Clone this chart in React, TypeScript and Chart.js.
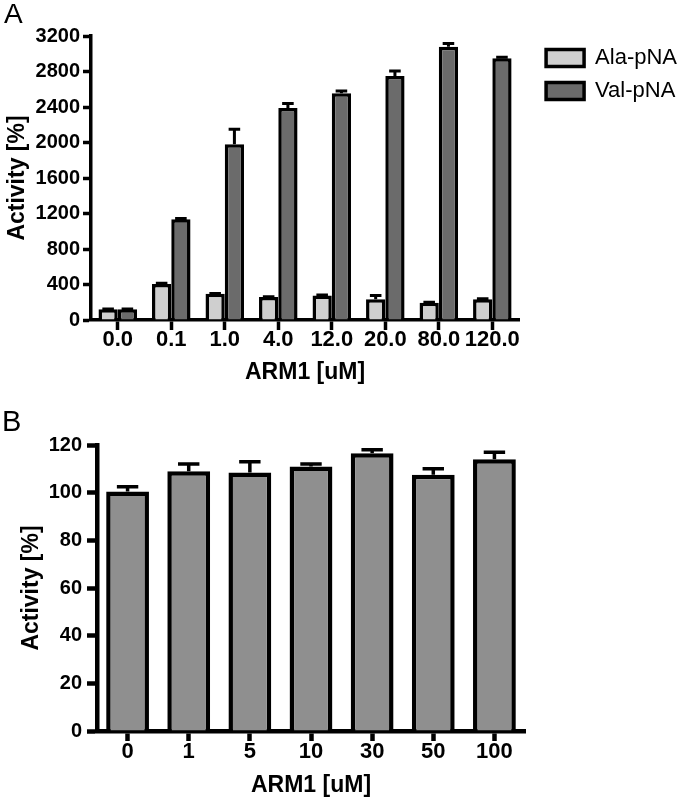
import React, { useEffect, useRef } from "react";
import { Chart, registerables } from "chart.js";

Chart.register(...registerables);

const FONT = "'Liberation Sans', Arial, Helvetica, sans-serif";

// ---------- Panel A data ----------
const concA = ["0.0", "0.1", "1.0", "4.0", "12.0", "20.0", "80.0", "120.0"];
const alaValues = [120, 405, 295, 258, 275, 235, 195, 235];
const alaErrors = [5, 10, 5, 5, 8, 40, 5, 5];
const valValues = [120, 1135, 1980, 2390, 2555, 2750, 3080, 2950];
const valErrors = [5, 10, 170, 50, 25, 55, 35, 10];
const yTicksA = [0, 400, 800, 1200, 1600, 2000, 2400, 2800, 3200];

// ---------- Panel B data ----------
const concB = ["0", "1", "5", "10", "30", "50", "100"];
const actValues = [100.5, 109, 108.5, 111, 116.5, 107.5, 114];
const actErrors = [2, 3, 4.5, 1, 1.5, 2.5, 3];
const yTicksB = [0, 20, 40, 60, 80, 100, 120];

const errorBarPlugin = {
  id: "errorBars",
  afterDatasetsDraw(chart: any, _args: any, opts: any) {
    const ctx = chart.ctx;
    const yScale = chart.scales.y;
    chart.data.datasets.forEach((ds: any, i: number) => {
      const meta = chart.getDatasetMeta(i);
      if (meta.hidden) return;
      const errs = ds.errors || [];
      meta.data.forEach((bar: any, j: number) => {
        const v = ds.data[j];
        const e = errs[j];
        if (!e) return;
        const yTop = yScale.getPixelForValue(v + e);
        const half = bar.width * (opts.capRatio ?? 0.25);
        ctx.save();
        ctx.strokeStyle = "#000";
        ctx.lineWidth = opts.lineWidth ?? 3;
        ctx.beginPath();
        ctx.moveTo(bar.x, bar.y);
        ctx.lineTo(bar.x, yTop);
        ctx.moveTo(bar.x - half, yTop);
        ctx.lineTo(bar.x + half, yTop);
        ctx.stroke();
        ctx.restore();
      });
    });
  },
};

const legendShiftPlugin = {
  id: "legendShift",
  afterLayout(chart: any, _a: any, opts: any) {
    const lg = chart.legend;
    if (lg && opts && opts.dx) {
      lg.left += opts.dx;
      lg.right += opts.dx;
    }
  },
};

function yAxis(ticks: number[], width: number, tickLen: number, lw: number, tickPad: number, titlePad: number) {
  return {
    min: ticks[0],
    max: ticks[ticks.length - 1],
    afterFit: (s: any) => {
      s.width = width;
    },
    afterBuildTicks: (s: any) => {
      s.ticks = ticks.map((v) => ({ value: v }));
    },
    border: { display: true, color: "#000", width: lw },
    grid: {
      display: true,
      drawOnChartArea: false,
      drawTicks: true,
      tickLength: tickLen,
      tickWidth: lw,
      tickColor: "#000",
      color: "#000",
    },
    ticks: {
      color: "#000",
      padding: tickPad,
      font: { family: FONT, size: 20, weight: "bold" },
      callback: (v: any) => String(v),
    },
    title: {
      display: true,
      text: "Activity [%]",
      color: "#000",
      font: { family: FONT, size: 23, weight: "bold" },
      padding: { top: titlePad, bottom: 0 },
    },
  };
}

function xAxis(height: number, tickLen: number, lw: number, tickPad: number, titlePadBottom: number) {
  return {
    afterFit: (s: any) => {
      s.height = height;
    },
    border: { display: true, color: "#000", width: lw },
    grid: {
      display: true,
      offset: false,
      drawOnChartArea: false,
      drawTicks: true,
      tickLength: tickLen,
      tickWidth: lw,
      tickColor: "#000",
      color: "#000",
    },
    ticks: {
      color: "#000",
      padding: tickPad,
      autoSkip: false,
      maxRotation: 0,
      font: { family: FONT, size: 22, weight: "bold", lineHeight: 1 },
    },
    title: {
      display: true,
      text: "ARM1 [uM]",
      color: "#000",
      font: { family: FONT, size: 23, weight: "bold", lineHeight: 1 },
      padding: { top: 0, bottom: titlePadBottom },
    },
  };
}

function PanelA() {
  const ref = useRef<HTMLCanvasElement>(null);
  useEffect(() => {
    const chart = new Chart(ref.current as HTMLCanvasElement, {
      type: "bar",
      data: {
        labels: concA,
        datasets: [
          {
            label: "Ala-pNA",
            data: alaValues,
            errors: alaErrors,
            backgroundColor: "#cfcfcf",
            borderColor: "#000",
            borderWidth: 3.5,
          } as any,
          {
            label: "Val-pNA",
            data: valValues,
            errors: valErrors,
            backgroundColor: "#6b6b6b",
            borderColor: "#000",
            borderWidth: 3.5,
          } as any,
        ],
      },
      options: {
        responsive: false,
        animation: false,
        datasets: { bar: { categoryPercentage: 0.72, barPercentage: 1 } },
        layout: { padding: { left: 4, right: 9, top: 0, bottom: 0 } },
        scales: {
          x: xAxis(70, 10, 3.5, -1, 5.5) as any,
          y: yAxis(yTicksA, 87, 8, 3.5, 3, 0) as any,
        },
        plugins: {
          tooltip: { enabled: false },
          title: {
            display: true,
            text: "A",
            align: "start",
            color: "#000",
            font: { family: FONT, size: 28, weight: "normal", lineHeight: 1 },
            padding: { top: 1, bottom: 7 },
          },
          legend: {
            display: true,
            position: "right",
            align: "start",
            fullSize: false,
            labels: {
              color: "#000",
              boxWidth: 38,
              boxHeight: 17,
              padding: 11,
              font: { family: FONT, size: 22 },
            },
          },
          errorBars: { lineWidth: 3, capRatio: 0.3 },
          legendShift: { dx: 16 },
        } as any,
      },
      plugins: [errorBarPlugin, legendShiftPlugin],
    });
    return () => chart.destroy();
  }, []);
  return (
    <canvas
      ref={ref}
      width={680}
      height={390}
      style={{ display: "block", position: "absolute", left: 0, top: 0 }}
    />
  );
}

function PanelB() {
  const ref = useRef<HTMLCanvasElement>(null);
  useEffect(() => {
    const chart = new Chart(ref.current as HTMLCanvasElement, {
      type: "bar",
      data: {
        labels: concB,
        datasets: [
          {
            label: "Activity",
            data: actValues,
            errors: actErrors,
            backgroundColor: "#8f8f8f",
            borderColor: "#000",
            borderWidth: 4.5,
          } as any,
        ],
      },
      options: {
        responsive: false,
        animation: false,
        datasets: { bar: { categoryPercentage: 1, barPercentage: 0.7 } },
        layout: { padding: { left: 2, right: 155, top: 0, bottom: 0 } },
        scales: {
          x: xAxis(70, 10, 4.5, 0, 4) as any,
          y: yAxis(yTicksB, 95, 10, 4.5, 5, 16) as any,
        },
        plugins: {
          tooltip: { enabled: false },
          legend: { display: false },
          title: {
            display: true,
            text: "B",
            align: "start",
            color: "#000",
            font: { family: FONT, size: 29, weight: "normal", lineHeight: 1 },
            padding: { top: 28, bottom: 8 },
          },
          errorBars: { lineWidth: 3.5, capRatio: 0.25 },
        } as any,
      },
      plugins: [errorBarPlugin],
    });
    return () => chart.destroy();
  }, []);
  return (
    <canvas
      ref={ref}
      width={680}
      height={421}
      style={{ display: "block", position: "absolute", left: 0, top: 380 }}
    />
  );
}

export default function App() {
  return (
    <div style={{ position: "absolute", left: 0, top: 0, width: 680, height: 801, background: "#fff" }}>
      <PanelA />
      <PanelB />
    </div>
  );
}
